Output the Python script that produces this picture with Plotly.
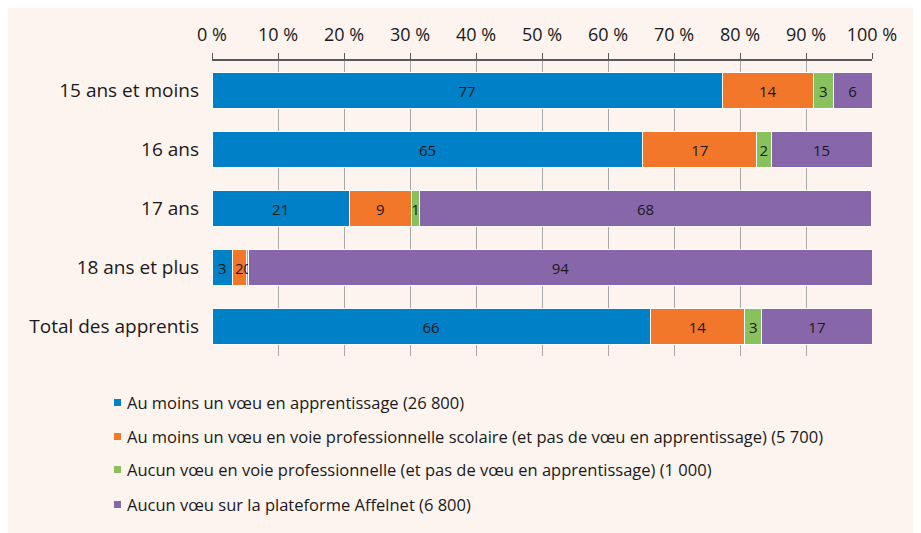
import plotly.graph_objects as go

categories = ["15 ans et moins", "16 ans", "17 ans", "18 ans et plus", "Total des apprentis"]
series_names = [
    "Au moins un vœu en apprentissage (26 800)",
    "Au moins un vœu en voie professionnelle scolaire (et pas de vœu en apprentissage) (5 700)",
    "Aucun vœu en voie professionnelle (et pas de vœu en apprentissage) (1 000)",
    "Aucun vœu sur la plateforme Affelnet (6 800)",
]
apprentissage = [77.3, 65.3, 20.8, 3.1, 66.4]
voie_pro_scolaire = [13.8, 17.2, 9.4, 2.1, 14.3]
aucun_voie_pro = [3.0, 2.2, 1.3, 0.4, 2.6]
aucun_affelnet = [5.9, 15.3, 68.4, 94.4, 16.7]
tick_values = [0, 10, 20, 30, 40, 50, 60, 70, 80, 90, 100]
tick_labels = ["0 %", "10 %", "20 %", "30 %", "40 %", "50 %", "60 %", "70 %", "80 %", "90 %", "100 %"]

colors = ["#0080C6", "#F3772B", "#89C15D", "#8767AA"]
all_series = [apprentissage, voie_pro_scolaire, aucun_voie_pro, aucun_affelnet]

FONT = "Open Sans"
TXT = "#1a1a1a"

# page offset (body margin) compensation
OFF = 8
W, H = 921 - OFF, 533 - OFF
L, R, T, B = 212 - OFF, 872 - OFF, 61 - OFF, 356 - OFF

def px(x):
    return (x - OFF - L) / (R - L)
def py(y):
    return (B - (y - OFF)) / (B - T)

fig = go.Figure()
for name, vals, col in zip(series_names, all_series, colors):
    fig.add_trace(go.Bar(
        y=categories, x=vals, name=name, orientation="h",
        marker=dict(color=col, line=dict(color="white", width=1)),
        texttemplate="%{x:.0f}", textposition="inside", insidetextanchor="middle",
        textfont=dict(family=FONT, size=15, color=TXT),
        showlegend=False, hoverinfo="x+y",
    ))

fig.add_shape(type="rect", xref="paper", yref="paper",
              x0=px(6), x1=px(915), y0=py(533), y1=py(8),
              fillcolor="#FDF3EF", line=dict(width=0), layer="below")

legend_y = [402, 436, 469, 504]
for name, col, ly in zip(series_names, colors, legend_y):
    fig.add_shape(type="rect", xref="paper", yref="paper",
                  x0=px(114), x1=px(121), y0=py(ly + 4), y1=py(ly - 3),
                  fillcolor=col, line=dict(width=0))
    fig.add_annotation(xref="paper", yref="paper", x=px(125), y=py(ly),
                       text=name, showarrow=False, xanchor="left", yanchor="middle",
                       font=dict(family=FONT, size=16.5, color=TXT))

fig.update_layout(
    width=W, height=H,
    margin=dict(l=L, r=W - R, t=T, b=H - B, autoexpand=False),
    paper_bgcolor="white", plot_bgcolor="rgba(0,0,0,0)",
    barmode="stack", bargap=0.4,
    font=dict(family=FONT, color=TXT),
    uniformtext=dict(minsize=15, mode="show"),
    xaxis=dict(side="top", range=[0, 100], tickvals=tick_values, ticktext=tick_labels,
               showgrid=True, gridcolor="#A8A8A8", gridwidth=1,
               showline=True, linecolor="#5a5a5a", linewidth=1.5,
               ticks="outside", ticklen=6, tickcolor="#5a5a5a", tickwidth=1,
               tickfont=dict(family=FONT, size=18, color=TXT),
               ticklabelstandoff=5, zeroline=False, fixedrange=True),
    yaxis=dict(autorange="reversed", showgrid=False, ticks="",
               tickfont=dict(family=FONT, size=19, color=TXT),
               ticklabelstandoff=12, fixedrange=True),
)

fig.write_html("out.html")
